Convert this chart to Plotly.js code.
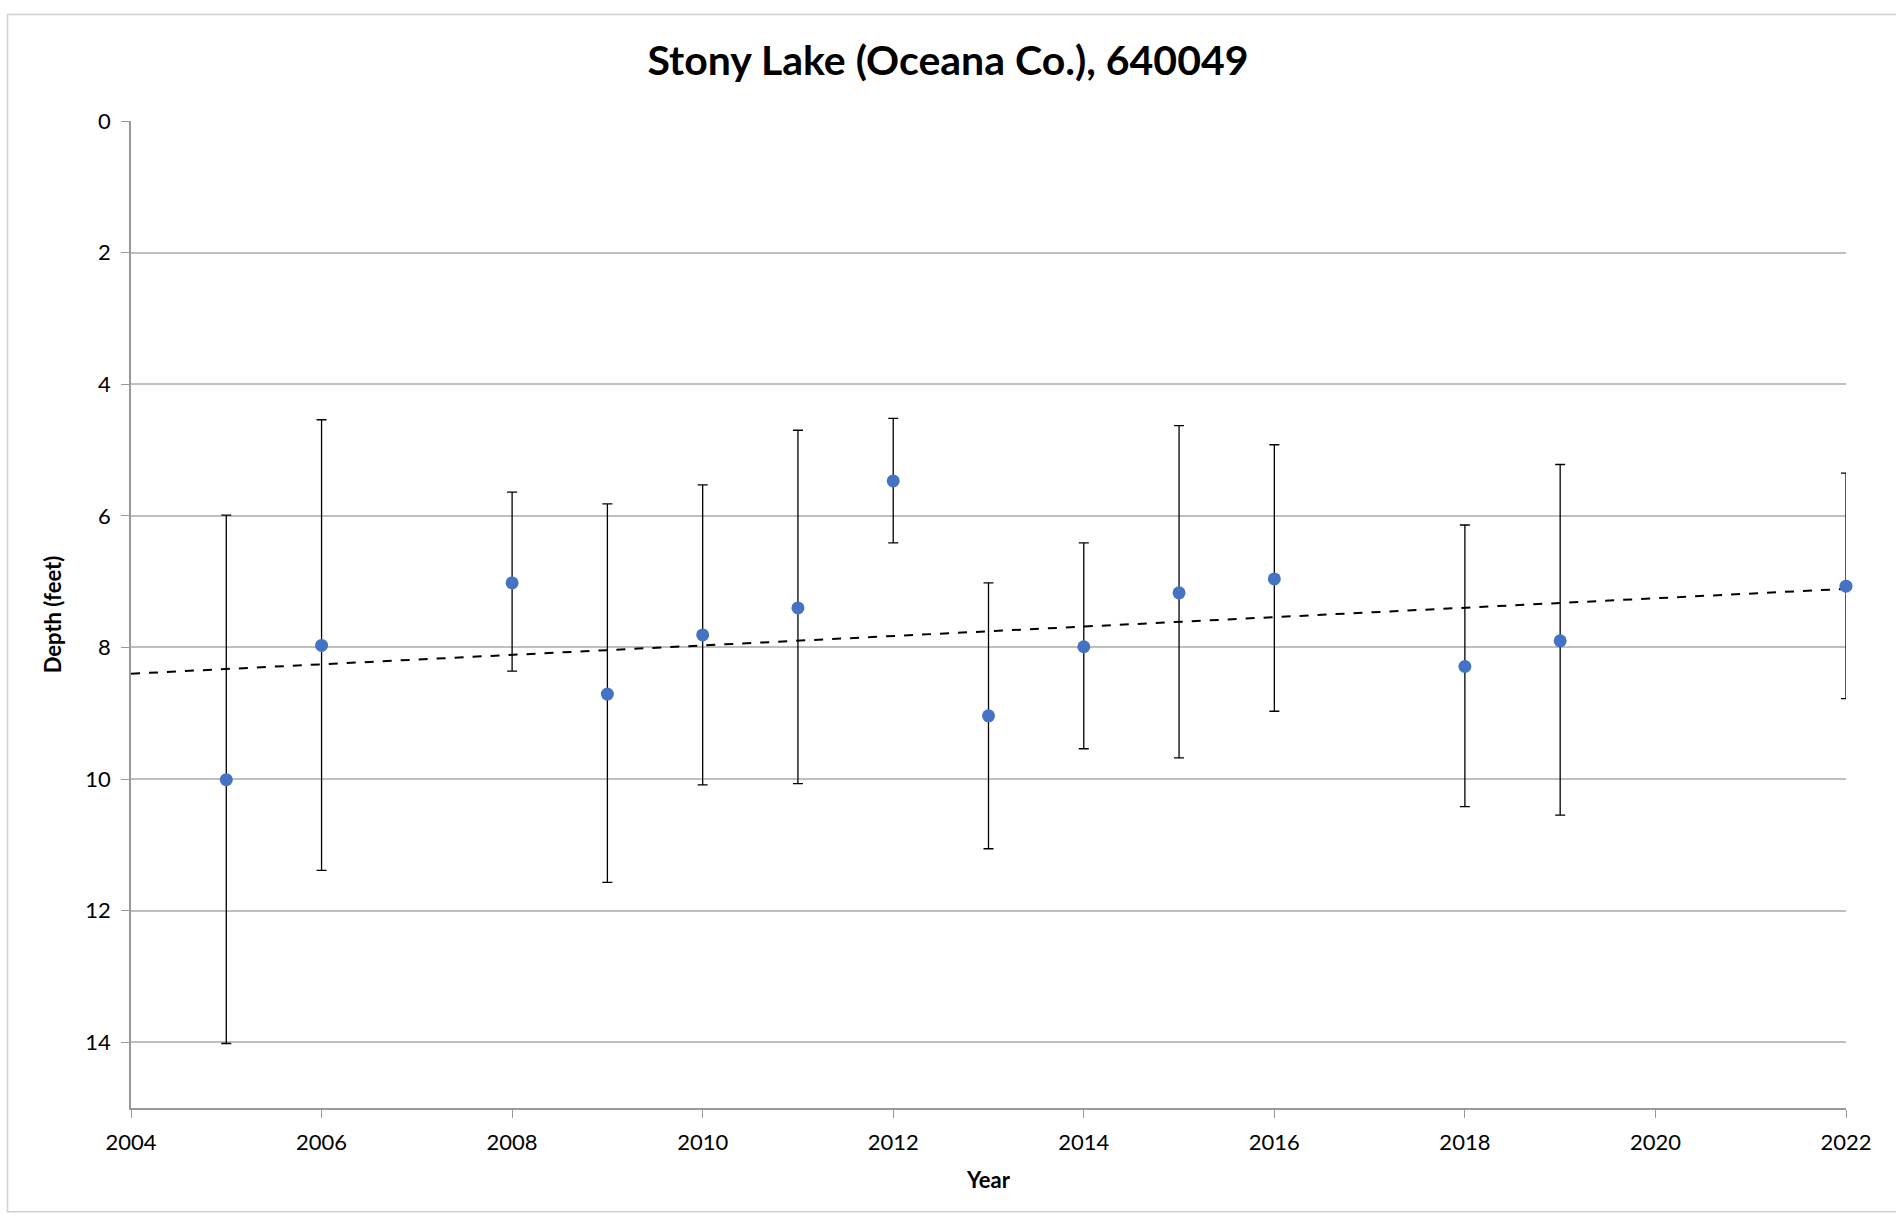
<!DOCTYPE html>
<html><head><meta charset="utf-8">
<script src="https://cdn.plot.ly/plotly-3.0.1.min.js"></script>
<style>html,body{margin:0;padding:0;background:#fff}#c{width:1896px;height:1228px}</style>
</head><body><div id="c"></div>
<script>
const years = [2005,2006,2008,2009,2010,2011,2012,2013,2014,2015,2016,2018,2019,2022];
const depth = [10.01,7.97,7.02,8.71,7.81,7.40,5.47,9.04,7.99,7.17,6.96,8.29,7.90,7.07];
const lowDepth = [5.99,4.54,5.64,5.82,5.53,4.70,4.52,7.02,6.41,4.63,4.92,6.14,5.22,5.35];
const highDepth = [14.02,11.39,8.36,11.57,10.09,10.07,6.41,11.06,9.54,9.68,8.97,10.42,10.55,8.78];
const trendX = [2004,2022];
const trendY = [8.40,7.11];

const plus = highDepth.map((h,i)=>h-depth[i]);
const minus = depth.map((d,i)=>d-lowDepth[i]);
const font = "Lato, 'Liberation Sans', sans-serif";
Plotly.newPlot('c',[
 {x:trendX,y:trendY,mode:'lines',line:{color:'#000',width:2,dash:'dash'},hoverinfo:'skip',cliponaxis:false},
 {x:years,y:depth,mode:'markers',cliponaxis:false,marker:{color:'#4472C4',size:13},
  error_y:{type:'data',symmetric:false,array:plus,arrayminus:minus,color:'#000',thickness:1.3,width:5}}
],{
 width:1896,height:1228,showlegend:false,paper_bgcolor:'#fff',plot_bgcolor:'#fff',
 margin:{l:131,r:50,t:121,b:120},
 font:{family:font,size:22,color:'#000'},
 title:{text:'<b>Stony Lake (Oceana Co.), 640049</b>',x:0.5,xanchor:'center',y:0.951,yanchor:'middle',font:{size:41,family:font}},
 xaxis:{range:[2004,2022],dtick:2,tick0:2004,showgrid:false,zeroline:false,showline:true,linecolor:'#999',linewidth:1.5,
   ticks:'outside',ticklen:8,tickcolor:'#999',ticklabelstandoff:6,title:{text:'<b>Year</b>',font:{size:22},standoff:18}},
 yaxis:{range:[15,0],dtick:2,tick0:0,showgrid:true,gridcolor:'#bfbfbf',gridwidth:1.5,zeroline:false,showline:true,linecolor:'#999',linewidth:1.5,
   ticks:'outside',ticklen:8,tickcolor:'#999',ticklabelstandoff:6,title:{text:'<b>Depth (feet)</b>',font:{size:22},standoff:18}},
 shapes:[{type:'rect',xref:'paper',yref:'paper',x0:-0.072,x1:1.03,y0:-0.105,y1:1.108,line:{color:'#d0d0d0',width:1.5}}]
},{displayModeBar:false});
</script></body></html>
